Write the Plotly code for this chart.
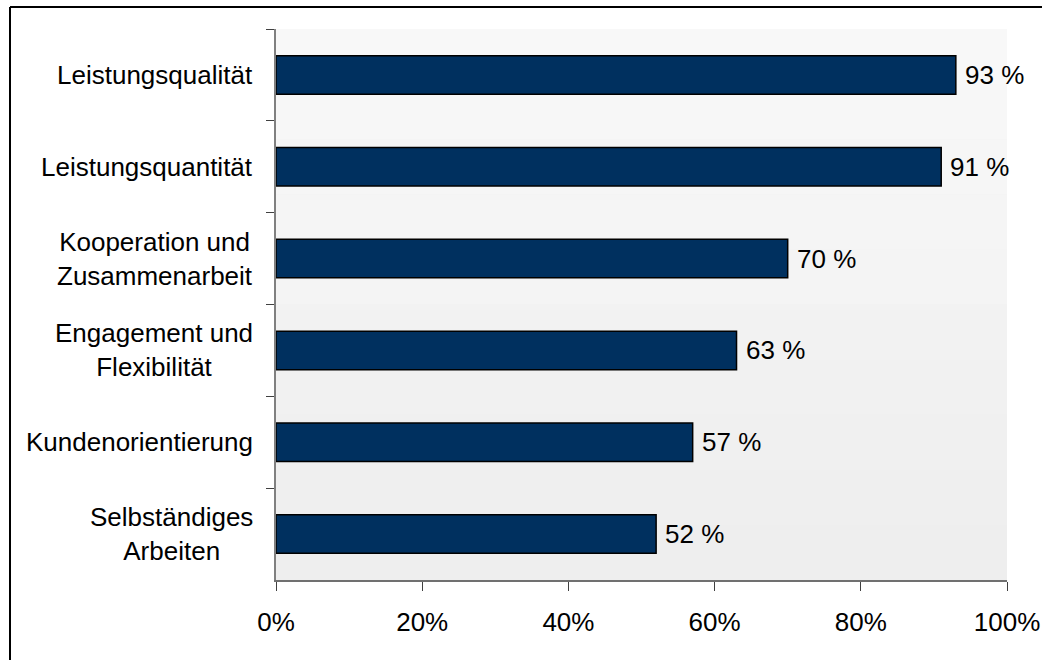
import plotly.graph_objects as go

# Survey results: share of respondents per assessment criterion
categories = [
    "Leistungsqualität",
    "Leistungsquantität",
    "Kooperation und<br>Zusammenarbeit",
    "Engagement und<br>Flexibilität",
    "Kundenorientierung",
    "Selbständiges<br>Arbeiten",
]
values = [93, 91, 70, 63, 57, 52]
x_ticks = [0, 20, 40, 60, 80, 100]
x_tick_labels = ["0%", "20%", "40%", "60%", "80%", "100%"]

FONT = "Liberation Sans, Arial, Helvetica, sans-serif"
FS = 26
BAR_COLOR = "#00305f"
W, H = 1043, 660
M_L, M_R, M_T, M_B = 276, 36, 29, 80
plot_w = W - M_L - M_R
plot_h = H - M_T - M_B

fig = go.Figure()
fig.add_trace(go.Bar(
    x=values,
    y=categories,
    orientation="h",
    marker=dict(color=BAR_COLOR, line=dict(color="#000000", width=1.5)),
    hoverinfo="skip",
))

annotations = []
# category labels, lines centred within each label block
for cat in categories:
    annotations.append(dict(
        x=0, xref="paper", y=cat, yref="y",
        text=cat, showarrow=False,
        xanchor="right", yanchor="middle", align="center",
        xshift=-21,
        font=dict(family=FONT, size=FS, color="#000000"),
    ))
# value labels next to the bar ends
for cat, v in zip(categories, values):
    annotations.append(dict(
        x=v, xref="x", y=cat, yref="y",
        text=f"{v} %", showarrow=False,
        xanchor="left", yanchor="middle",
        xshift=7,
        font=dict(family=FONT, size=FS, color="#000000"),
    ))

# soft vertical gradient behind the bars
shapes = []
n_bands = 10
top_c, bot_c = 248, 238
for i in range(n_bands):
    c = round(top_c + (bot_c - top_c) * i / (n_bands - 1))
    shapes.append(dict(
        type="rect", xref="paper", yref="paper",
        x0=0, x1=1, y1=1 - i / n_bands, y0=1 - (i + 1) / n_bands,
        fillcolor=f"rgb({c},{c},{c})", line=dict(width=0), layer="below",
    ))

# frame around the chart (left and top edges)
fx0 = (10 - M_L) / plot_w
fx1 = (W - 1 - M_L) / plot_w
fy_top = (H - M_B - 7) / plot_h
fy_bot = (H - M_B - H) / plot_h
shapes.append(dict(type="line", xref="paper", yref="paper",
                   x0=fx0, x1=fx0, y0=fy_bot, y1=fy_top,
                   line=dict(color="#000000", width=2)))
shapes.append(dict(type="line", xref="paper", yref="paper",
                   x0=fx0, x1=fx1, y0=fy_top, y1=fy_top,
                   line=dict(color="#000000", width=2)))

fig.update_layout(
    width=W, height=H,
    margin=dict(l=M_L, r=M_R, t=M_T, b=M_B, pad=0, autoexpand=False),
    paper_bgcolor="#ffffff",
    plot_bgcolor="#f3f3f3",
    bargap=0.58,
    showlegend=False,
    font=dict(family=FONT, size=FS, color="#000000"),
    annotations=annotations,
    shapes=shapes,
    xaxis=dict(
        range=[0, 100],
        tickvals=x_ticks, ticktext=x_tick_labels,
        showgrid=False, zeroline=False,
        showline=True, linecolor="#707070", linewidth=1.5,
        ticks="outside", ticklen=9, tickcolor="#404040", tickwidth=1,
        ticklabelstandoff=9,
        tickfont=dict(family=FONT, size=FS, color="#000000"),
        automargin=False,
        fixedrange=True,
    ),
    yaxis=dict(
        autorange="reversed",
        showgrid=False, zeroline=False,
        showline=True, linecolor="#808080", linewidth=1.5,
        ticks="outside", ticklen=8, tickcolor="#404040", tickwidth=1,
        tickson="boundaries",
        showticklabels=False,
        automargin=False,
        fixedrange=True,
    ),
)

fig.write_html("out.html", config={"displayModeBar": False})
